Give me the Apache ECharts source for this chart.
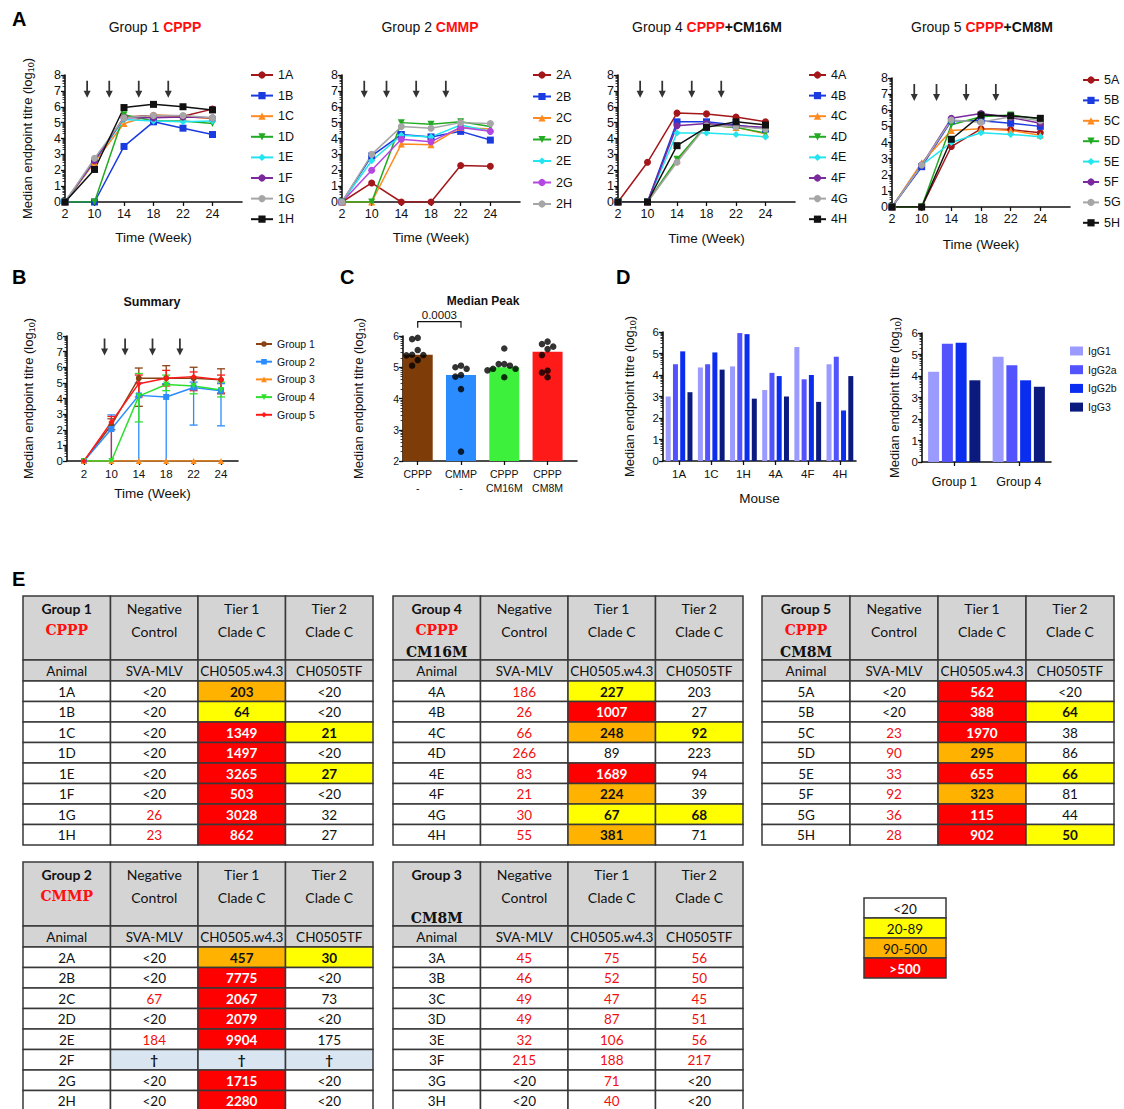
<!DOCTYPE html>
<html>
<head>
<meta charset="utf-8">
<title>Titres figure</title>
<script src="https://cdn.jsdelivr.net/npm/echarts@6/dist/echarts.min.js"></script>
<style>
  html, body { margin: 0; padding: 0; background: #fff; }
  #fig { width: 1124px; height: 1109px; }
</style>
</head>
<body>
<div id="fig"></div>
<script>
// ---- data ----
var weeks = ['2', '10', '14', '18', '22', '24'];
var boostWeeks = [8, 12, 16, 20];

var g1Animals = ['1A', '1B', '1C', '1D', '1E', '1F', '1G', '1H'];
var g1Titres = [
  [0, 2.55, 5.35, 5.45, 5.4, 5.85],
  [0, 0, 3.5, 5.05, 4.65, 4.25],
  [0, 2.5, 4.95, 5.5, 5.4, 5.25],
  [0, 0, 5.5, 5.1, 5.1, 4.95],
  [0, 2.6, 5.2, 5.1, 5.05, 5.1],
  [0, 2.6, 5.3, 5.3, 5.35, 5.3],
  [0, 2.75, 5.3, 5.45, 5.45, 5.3],
  [0, 2.05, 5.95, 6.15, 6.0, 5.8]
];
var g2Animals = ['2A', '2B', '2C', '2D', '2E', '2G', '2H'];
var g2Titres = [
  [0, 1.2, 0, 0, 2.3, 2.25],
  [0, 2.9, 4.25, 4.1, 4.45, 3.9],
  [0, 0, 3.65, 3.6, 4.7, 4.6],
  [0, 0, 5.0, 4.9, 5.05, 4.75],
  [0, 2.6, 4.2, 4.1, 4.85, 4.45],
  [0, 2.0, 3.95, 3.8, 4.7, 4.45],
  [0, 3.0, 4.75, 4.65, 5.0, 4.95]
];
var g4Animals = ['4A', '4B', '4C', '4D', '4E', '4F', '4G', '4H'];
var g4Titres = [
  [0, 2.5, 5.6, 5.55, 5.35, 5.05],
  [0, 0, 5.05, 5.05, 4.85, 4.6],
  [0, 0, 2.6, 4.85, 4.7, 4.3],
  [0, 0, 2.7, 4.85, 4.7, 4.35],
  [0, 0, 4.35, 4.35, 4.25, 4.1],
  [0, 0, 4.8, 4.95, 4.8, 4.7],
  [0, 0, 2.5, 4.8, 4.75, 4.6],
  [0, 0, 3.55, 4.7, 5.05, 4.85]
];
var g5Animals = ['5A', '5B', '5C', '5D', '5E', '5F', '5G', '5H'];
var g5Titres = [
  [0, 0, 3.75, 4.85, 4.8, 4.6],
  [0, 2.5, 5.35, 5.35, 5.2, 5.0],
  [0, 2.75, 4.75, 4.85, 4.75, 4.45],
  [0, 0, 5.1, 5.6, 5.7, 5.45],
  [0, 2.6, 4.0, 4.6, 4.5, 4.35],
  [0, 2.6, 5.5, 5.8, 5.55, 5.2],
  [0, 2.6, 5.4, 5.25, 5.6, 5.35],
  [0, 0, 4.2, 5.7, 5.65, 5.5]
];

var summaryGroups = ['Group 1', 'Group 2', 'Group 3', 'Group 4', 'Group 5'];
var summaryMedian = [
  [0, 2.3, 5.3, 5.3, 5.3, 5.2],
  [0, 2.05, 4.2, 4.1, 4.7, 4.5],
  [0, 0, 0, 0, 0, 0],
  [0, 0, 4.15, 4.9, 4.8, 4.55],
  [0, 2.5, 4.95, 5.3, 5.4, 5.2]
];
var summaryLow = [
  [null, 2.0, 3.5, 4.9, 4.6, 4.3],
  [null, 0, 0, 0, 2.3, 2.25],
  [null, null, null, null, null, null],
  [null, null, 2.5, 4.5, 4.3, 4.1],
  [null, 0, 4.1, 4.8, 4.5, 4.35]
];
var summaryHigh = [
  [null, 2.7, 5.95, 6.1, 6.0, 5.9],
  [null, 2.95, 5.0, 4.95, 5.05, 4.95],
  [null, null, null, null, null, null],
  [null, null, 5.6, 5.5, 5.35, 5.05],
  [null, 2.85, 5.5, 5.8, 5.7, 5.5]
];

var peakGroups = ['CPPP\n-', 'CMMP\n-', 'CPPP\nCM16M', 'CPPP\nCM8M'];
var peakMedian = [5.4, 4.75, 5.0, 5.5];
var peakAnimals = [
  [5.94, 5.9, 5.55, 5.4, 5.39, 5.38, 5.23, 5.05],
  [5.05, 5.0, 4.95, 4.75, 4.7, 4.3, 2.3],
  [5.6, 5.1, 5.1, 5.05, 4.95, 4.95, 4.9, 4.68],
  [5.82, 5.74, 5.66, 5.58, 5.39, 4.89, 4.83, 4.68]
];
var peakP = '0.0003';

var subclassNames = ['IgG1', 'IgG2a', 'IgG2b', 'IgG3'];
var mice = ['1A', '1C', '1H', '4A', '4F', '4H'];
var miceIgG1 = [3.0, 4.35, 4.4, 3.3, 5.3, 4.5];
var miceIgG2a = [4.5, 4.5, 5.95, 4.1, 3.8, 4.85];
var miceIgG2b = [5.1, 5.05, 5.9, 3.95, 4.0, 2.35];
var miceIgG3 = [3.2, 4.25, 2.9, 3.0, 2.75, 3.95];
var subclassGroups = ['Group 1', 'Group 4'];
var groupIgG1 = [4.2, 4.9];
var groupIgG2a = [5.5, 4.5];
var groupIgG2b = [5.55, 3.8];
var groupIgG3 = [3.8, 3.5];

// neutralisation tables (k plain, r red text, Y/O/R yellow/orange/red cell, D died)
var colHeads = ['Negative\nControl', 'Tier 1\nClade C', 'Tier 2\nClade C'];
var subHeads = ['Animal', 'SVA-MLV', 'CH0505.w4.3', 'CH0505TF'];

var g1Neg = ['<20', '<20', '<20', '<20', '<20', '<20', '26', '23'];
var g1Tier1 = ['203', '64', '1349', '1497', '3265', '503', '3028', '862'];
var g1Tier2 = ['<20', '<20', '21', '<20', '27', '<20', '32', '27'];
var g1Marks = ['kkkkkkrr', 'OYRRRRRR', 'kkYkYkkk'];

var g4Neg = ['186', '26', '66', '266', '83', '21', '30', '55'];
var g4Tier1 = ['227', '1007', '248', '89', '1689', '224', '67', '381'];
var g4Tier2 = ['203', '27', '92', '223', '94', '39', '68', '71'];
var g4Marks = ['rrrrrrrr', 'YROkROYO', 'kkYkkkYk'];

var g5Neg = ['<20', '<20', '23', '90', '33', '92', '36', '28'];
var g5Tier1 = ['562', '388', '1970', '295', '655', '323', '115', '902'];
var g5Tier2 = ['<20', '64', '38', '86', '66', '81', '44', '50'];
var g5Marks = ['kkrrrrrr', 'RRRORORR', 'kYkkYkkY'];

var g2TableAnimals = ['2A', '2B', '2C', '2D', '2E', '2F', '2G', '2H'];
var g2Neg = ['<20', '<20', '67', '<20', '184', '\u2020', '<20', '<20'];
var g2Tier1 = ['457', '7775', '2067', '2079', '9904', '\u2020', '1715', '2280'];
var g2Tier2 = ['30', '<20', '73', '<20', '175', '\u2020', '<20', '<20'];
var g2Marks = ['kkrkrDkk', 'ORRRRDRR', 'YkkkkDkk'];

var g3Animals = ['3A', '3B', '3C', '3D', '3E', '3F', '3G', '3H'];
var g3Neg = ['45', '46', '49', '49', '32', '215', '<20', '<20'];
var g3Tier1 = ['75', '52', '47', '87', '106', '188', '71', '40'];
var g3Tier2 = ['56', '50', '45', '51', '56', '217', '<20', '<20'];
var g3Marks = ['rrrrrrkk', 'rrrrrrrr', 'rrrrrrkk'];

var keyLevels = ['<20', '20-89', '90-500', '>500'];
var keyMarks = 'kyoR';

// ---- styling ----
var FONT = '"Liberation Sans", Arial, sans-serif';
var TFONT = 'Lato, "Liberation Sans", sans-serif';
var SFONT = '"DejaVu Serif", serif';
var INK = '#111';
var lineColors = ['#A3161A', '#1A3BE0', '#FF8A1F', '#22AA22', '#22E5F0', '#7B2A9E', '#A6A6A6', '#111111'];
var lineSymbols = ['circle', 'rect', 'triangle', 'triangle', 'diamond', 'circle', 'circle', 'rect'];
var lineRotate = [0, 0, 0, 180, 0, 0, 0, 0];
var sumColors = ['#8A4215', '#2A8CFF', '#FF8C1A', '#2EE02E', '#FF1A1A'];
var sumSymbols = ['circle', 'rect', 'triangle', 'triangle', 'diamond'];
var sumRotate = [0, 0, 0, 180, 0];
var peakColors = ['#7E3D08', '#2A8CFF', '#3CF03C', '#FF1A1A'];
var igColors = ['#9A9AFF', '#5252FF', '#0A2DF0', '#0B1A7E'];
var ARROW = 'path://M3,0 L5,0 L5,10 L8,10 L4,17 L0,10 L3,10 Z';

var grids = [], xAxes = [], yAxes = [], series = [], titles = [], legends = [];

function addGrid(box, xa, ya, minor) {
  box.outerBoundsMode = 'none';
  grids.push(box);
  var g = grids.length - 1;
  xa.gridIndex = g;
  ya.gridIndex = g;
  xAxes.push(xa);
  yAxes.push(ya);
  var ref = { xAxisIndex: xAxes.length - 1, yAxisIndex: yAxes.length - 1 };
  if (minor) yAxes.push(minorAxis(g, ya.min, ya.max));
  return ref;
}

function minorAxis(g, min, max) {
  var vals = [];
  for (var d = min; d < max; d++) {
    for (var k = 2; k < 10; k++) vals.push(d + Math.log10(k));
  }
  return {
    type: 'value', gridIndex: g, min: min, max: max, position: 'left',
    axisLine: { show: false, onZero: false }, axisLabel: { show: false }, splitLine: { show: false },
    axisTick: { show: true, length: 2.5, customValues: vals, lineStyle: { color: INK, width: 0.8 } }
  };
}

var titreName = 'Median endpoint titre (log{s|10})';
function titreAxis(min, max, fs, nameGap) {
  var ax = {
    type: 'value', min: min, max: max, interval: 1,
    axisLine: { show: true, onZero: false, lineStyle: { color: INK, width: 1.6 } },
    axisTick: { show: true, length: 4, lineStyle: { color: INK, width: 1.3 } },
    axisLabel: { fontFamily: FONT, fontSize: fs, color: INK, margin: 4 },
    splitLine: { show: false }
  };
  if (nameGap) {
    ax.name = titreName;
    ax.nameLocation = 'middle';
    ax.nameGap = nameGap;
    ax.nameMoveOverlap = false;
    ax.nameTextStyle = {
      fontFamily: FONT, fontSize: 13, color: INK, lineHeight: 15,
      rich: { s: { fontFamily: FONT, fontSize: 9, lineHeight: 8, verticalAlign: 'bottom', color: INK } }
    };
  }
  return ax;
}

function xAxisName(ax, name, gap) {
  ax.name = name;
  ax.nameLocation = 'middle';
  ax.nameGap = gap;
  ax.nameMoveOverlap = false;
  ax.nameTextStyle = { fontFamily: FONT, fontSize: 13.5, color: INK };
  return ax;
}

function indexAxis(min, max, labels, fs, margin) {
  var idx = labels.map(function (w, i) { return i; });
  return {
    type: 'value', min: min, max: max,
    axisLine: { show: true, onZero: false, lineStyle: { color: INK, width: 1.6 } },
    axisTick: { show: true, length: 4, customValues: idx, lineStyle: { color: INK, width: 1.3 } },
    axisLabel: {
      customValues: idx, fontFamily: FONT, fontSize: fs, color: INK, margin: margin, lineHeight: 14,
      formatter: function (v) { return labels[Math.round(v)]; }
    },
    splitLine: { show: false }
  };
}

function catAxis(labels, fs, margin) {
  return {
    type: 'category', data: labels,
    axisLine: { show: true, onZero: false, lineStyle: { color: INK, width: 1.6 } },
    axisTick: { show: true, length: 4, alignWithLabel: true, lineStyle: { color: INK, width: 1.3 } },
    axisLabel: { fontFamily: FONT, fontSize: fs, color: INK, margin: margin }
  };
}

function weekIndex(w) {
  var nums = weeks.map(Number);
  for (var i = 0; i < nums.length - 1; i++) {
    if (w <= nums[i + 1]) return i + (w - nums[i]) / (nums[i + 1] - nums[i]);
  }
  return nums.length - 1;
}

function arrowSeries(ref, y) {
  return Object.assign({
    type: 'scatter', silent: true, symbol: ARROW, symbolSize: [7, 17],
    itemStyle: { color: '#000' },
    data: boostWeeks.map(function (w) { return [weekIndex(w), y]; })
  }, ref);
}

var titleRich = {
  n: { fontFamily: FONT, fontSize: 14, fontWeight: 'normal', color: INK },
  r: { fontFamily: FONT, fontSize: 14, fontWeight: 'bold', color: '#FF1010' },
  b: { fontFamily: FONT, fontSize: 14, fontWeight: 'bold', color: INK }
};

// panel letters
[['A', 12, 9], ['B', 12, 267], ['C', 340, 267], ['D', 616, 267], ['E', 12, 569]].forEach(function (l) {
  titles.push({ text: l[0], left: l[1], top: l[2], padding: 0,
    textStyle: { fontFamily: FONT, fontSize: 20, fontWeight: 'bold', color: '#000' } });
});

// ---- A: individual animals ----
var aPanels = [
  { names: g1Animals, titres: g1Titres, title: '{n|Group 1 }{r|CPPP}', tx: 155,
    box: { left: 65, top: 75, width: 177, height: 127 }, leg: [250, 68, 6.6, 22], yGap: 30, xGap: 28 },
  { names: g2Animals, titres: g2Titres, title: '{n|Group 2 }{r|CMMP}', tx: 430, purple: '#B347E0',
    box: { left: 342, top: 75, width: 178, height: 127 }, leg: [532, 68, 7.5, 18], yGap: 0, xGap: 28 },
  { names: g4Animals, titres: g4Titres, title: '{n|Group 4 }{r|CPPP}{b|+CM16M}', tx: 707,
    box: { left: 618, top: 75, width: 177, height: 127 }, leg: [808, 68, 6.6, 17], yGap: 0, xGap: 29 },
  { names: g5Animals, titres: g5Titres, title: '{n|Group 5 }{r|CPPP}{b|+CM8M}', tx: 982,
    box: { left: 892, top: 78, width: 178, height: 129 }, leg: [1082, 73, 6.4, 16], yGap: 0, xGap: 30 }
];

aPanels.forEach(function (p) {
  var ref = addGrid(p.box, xAxisName(indexAxis(0, 6, weeks, 12.5, 5), 'Time (Week)', p.xGap),
    titreAxis(0, 8, 12.5, p.yGap), true);
  titles.push({ text: p.title, left: p.tx, top: 20, padding: 0, textAlign: 'center',
    textStyle: { fontWeight: 'normal', rich: titleRich } });
  p.names.forEach(function (n, i) {
    var col = (i === 5 && p.purple) ? p.purple : lineColors[i];
    series.push(Object.assign({
      name: n, type: 'line',
      data: p.titres[i].map(function (v, k) { return [k, v]; }),
      symbol: lineSymbols[i], symbolRotate: lineRotate[i], symbolSize: 7,
      lineStyle: { color: col, width: 1.5 }, itemStyle: { color: col }
    }, ref));
  });
  series.push(arrowSeries(ref, 7.1));
  legends.push({
    orient: 'vertical', left: p.leg[0], top: p.leg[1], itemWidth: p.leg[3], itemHeight: 9, itemGap: p.leg[2],
    padding: 0, selectedMode: false, data: p.names,
    textStyle: { fontFamily: FONT, fontSize: 12.5, color: INK, lineHeight: 14 }
  });
});

// ---- B: summary ----
var bRef = addGrid({ left: 67, top: 336, width: 171, height: 125 },
  xAxisName(indexAxis(-0.62, 5.62, weeks, 11.5, 6), 'Time (Week)', 25), titreAxis(0, 8, 11.5, 31), true);
titles.push({ text: 'Summary', left: 152, top: 295, padding: 0, textAlign: 'center',
  textStyle: { fontFamily: FONT, fontSize: 12.5, fontWeight: 'bold', color: INK } });

function errorBars(params, api) {
  var x = api.value(0);
  var lo = api.coord([x, api.value(1)]), hi = api.coord([x, api.value(2)]);
  var st = { stroke: api.visual('color'), lineWidth: 1.3 };
  var w = 4;
  return { type: 'group', children: [
    { type: 'line', shape: { x1: lo[0], y1: lo[1], x2: hi[0], y2: hi[1] }, style: st },
    { type: 'line', shape: { x1: hi[0] - w, y1: hi[1], x2: hi[0] + w, y2: hi[1] }, style: st },
    { type: 'line', shape: { x1: lo[0] - w, y1: lo[1], x2: lo[0] + w, y2: lo[1] }, style: st }
  ] };
}

summaryGroups.forEach(function (g, i) {
  var bars = [];
  summaryLow[i].forEach(function (lo, k) {
    if (lo !== null) bars.push([k, lo, summaryHigh[i][k]]);
  });
  series.push(Object.assign({
    name: g + ' range', type: 'custom', renderItem: errorBars, data: bars,
    itemStyle: { color: sumColors[i] }, encode: { x: 0, y: [1, 2] }
  }, bRef));
  series.push(Object.assign({
    name: g, type: 'line',
    data: summaryMedian[i].map(function (v, k) { return [k, v]; }),
    symbol: sumSymbols[i], symbolRotate: sumRotate[i], symbolSize: 6,
    lineStyle: { color: sumColors[i], width: 1.5 }, itemStyle: { color: sumColors[i] }
  }, bRef));
});
series.push(arrowSeries(bRef, 7.3));
legends.push({
  orient: 'vertical', left: 255, top: 338, itemWidth: 16, itemHeight: 7, itemGap: 5.7,
  padding: 0, selectedMode: false, data: summaryGroups,
  textStyle: { fontFamily: FONT, fontSize: 10.5, color: INK, lineHeight: 12 }
});

// ---- C: median peak ----
var cY = titreAxis(2, 6, 10.5, 37);
cY.startValue = 2;
var cRef = addGrid({ left: 403, top: 336, width: 174, height: 125 },
  indexAxis(-0.34, 3.68, peakGroups, 10.5, 6), cY, true);
titles.push({ text: 'Median Peak', left: 483, top: 295, padding: 0, textAlign: 'center',
  textStyle: { fontFamily: FONT, fontSize: 12, fontWeight: 'bold', color: INK } });

series.push(Object.assign({
  type: 'bar', barWidth: 30, clip: true,
  data: peakMedian.map(function (v, i) { return { value: [i, v], itemStyle: { color: peakColors[i] } }; })
}, cRef));

// simple beeswarm: close values are pushed side by side
function swarm(vals, step, near) {
  var slots = [0, -1, 1, -2, 2, -3, 3];
  var placed = [];
  return vals.map(function (v) {
    for (var s = 0; s < slots.length; s++) {
      var free = placed.every(function (p) { return p.s !== slots[s] || Math.abs(p.v - v) >= near; });
      if (free) { placed.push({ v: v, s: slots[s] }); return slots[s] * step; }
    }
    return 0;
  });
}
var dots = [];
peakAnimals.forEach(function (vals, i) {
  var off = swarm(vals, 0.13, 0.2);
  vals.forEach(function (v, k) { dots.push([i + off[k], v]); });
});
series.push(Object.assign({
  type: 'scatter', symbolSize: 6.5, itemStyle: { color: '#000' }, data: dots, z: 5
}, cRef));

series.push(Object.assign({
  type: 'custom', silent: true, clip: false, data: [[0, 1, 6.46]],
  renderItem: function (params, api) {
    var l = api.coord([api.value(0), api.value(2)]), r = api.coord([api.value(1), api.value(2)]);
    return { type: 'group', children: [
      { type: 'polyline', shape: { points: [[l[0], l[1] + 6], [l[0], l[1]], [r[0], r[1]], [r[0], r[1] + 6]] },
        style: { stroke: INK, lineWidth: 1.2, fill: null } },
      { type: 'text', style: { x: (l[0] + r[0]) / 2, y: l[1] - 1, text: peakP, align: 'center', verticalAlign: 'bottom',
        fontFamily: FONT, fontSize: 11.5, fill: INK } }
    ] };
  }
}, cRef));

// ---- D: IgG subclasses ----
var d1Ref = addGrid({ left: 663, top: 332, width: 193, height: 129 },
  xAxisName(catAxis(mice, 11.5, 7), 'Mouse', 30), titreAxis(0, 6, 11.5, 26), true);
var d2Ref = addGrid({ left: 922, top: 333, width: 129, height: 129 },
  catAxis(subclassGroups, 12.5, 13), titreAxis(0, 6, 11.5, 20), true);
var miceSets = [miceIgG1, miceIgG2a, miceIgG2b, miceIgG3];
var groupSets = [groupIgG1, groupIgG2a, groupIgG2b, groupIgG3];
subclassNames.forEach(function (n, j) {
  series.push(Object.assign({ name: n, type: 'bar', data: miceSets[j], barWidth: 5, barGap: '45%',
    itemStyle: { color: igColors[j] } }, d1Ref));
  series.push(Object.assign({ name: n, type: 'bar', data: groupSets[j], barWidth: 11, barGap: '25%',
    itemStyle: { color: igColors[j] } }, d2Ref));
});
legends.push({
  orient: 'vertical', left: 1070, top: 345, icon: 'rect', itemWidth: 13, itemHeight: 9, itemGap: 6.7,
  padding: 0, selectedMode: false, data: subclassNames,
  textStyle: { fontFamily: FONT, fontSize: 10.5, color: INK, lineHeight: 12 }
});

// ---- E: neutralisation tables ----
var HEAD_H = 64, SUB_H = 21, ROW_H = 20.5;
var FILL = { head: '#D4D4D4', sub: '#D4D4D4', group: '#D4D4D4', Y: '#FFFF00', O: '#FFB300', R: '#FF0000',
  D: '#DAE5F2', y: '#FFFF00', o: '#FFB300', k: '#FFFFFF', r: '#FFFFFF' };
var headRich = {
  g: { fontFamily: TFONT, fontSize: 14, fontWeight: 'bold', fill: INK, lineHeight: 22 },
  c: { fontFamily: SFONT, fontSize: 14, fontWeight: 'bold', fill: '#FF1010', lineHeight: 22 },
  m: { fontFamily: SFONT, fontSize: 14, fontWeight: 'bold', fill: INK, lineHeight: 22 }
};

function groupText(lines) {
  var t = '{g|' + lines[0] + '}\n' + (lines[1] ? '{c|' + lines[1] + '}' : '{g| }');
  if (lines[2]) t += '\n{m|' + lines[2] + '}';
  return t;
}

function cellStyle(cell, x, y, w, h) {
  if (cell.kind === 'group') {
    return { x: x + w / 2, y: y + 1, align: 'center', verticalAlign: 'top', text: groupText(cell.lines), rich: headRich };
  }
  if (cell.kind === 'head') {
    return { x: x + w / 2, y: y + 1, align: 'center', verticalAlign: 'top', text: cell.text,
      fontFamily: TFONT, fontSize: 14, lineHeight: 23, fill: INK };
  }
  var bold = /^[YORD]$/.test(cell.kind);
  var color = cell.kind === 'R' ? '#FFFFFF' : (cell.kind === 'r' ? '#F01010' : INK);
  return { x: x + w / 2, y: y + h / 2 + 0.5, align: 'center', verticalAlign: 'middle', text: cell.text,
    fontFamily: TFONT, fontSize: 13.5, fontWeight: bold ? 'bold' : 'normal', fill: color };
}

function cellRenderer(cells) {
  return function (params, api) {
    var cell = cells[params.dataIndex];
    var a = api.coord([cell.c, cell.y0]), b = api.coord([cell.c + 1, cell.y1]);
    var x = a[0], y = a[1], w = b[0] - a[0], h = b[1] - a[1];
    return { type: 'group', children: [
      { type: 'rect', shape: { x: x, y: y, width: w, height: h },
        style: { fill: FILL[cell.kind], stroke: '#383838', lineWidth: 1.5 } },
      { type: 'text', style: cellStyle(cell, x, y, w, h) }
    ] };
  };
}

function addTable(box, head, animals, cols, marks) {
  var cells = [];
  cells.push({ c: 0, y0: 0, y1: HEAD_H, kind: 'group', lines: head });
  colHeads.forEach(function (t, j) { cells.push({ c: j + 1, y0: 0, y1: HEAD_H, kind: 'head', text: t }); });
  subHeads.forEach(function (t, j) { cells.push({ c: j, y0: HEAD_H, y1: HEAD_H + SUB_H, kind: 'sub', text: t }); });
  animals.forEach(function (an, i) {
    var y0 = HEAD_H + SUB_H + i * ROW_H;
    cells.push({ c: 0, y0: y0, y1: y0 + ROW_H, kind: 'k', text: an });
    cols.forEach(function (col, j) {
      cells.push({ c: j + 1, y0: y0, y1: y0 + ROW_H, kind: marks[j].charAt(i), text: col[i] });
    });
  });
  var total = HEAD_H + SUB_H + animals.length * ROW_H;
  var ref = addGrid(box, { type: 'value', min: 0, max: 4, show: false },
    { type: 'value', min: 0, max: total, inverse: true, show: false });
  series.push(Object.assign({
    type: 'custom', silent: true, clip: false, renderItem: cellRenderer(cells),
    data: cells.map(function (c) { return [c.c, c.y0]; })
  }, ref));
}

addTable({ left: 23, top: 596, width: 350, height: 249 }, ['Group 1', 'CPPP', ''], g1Animals, [g1Neg, g1Tier1, g1Tier2], g1Marks);
addTable({ left: 393, top: 596, width: 350, height: 249 }, ['Group 4', 'CPPP', 'CM16M'], g4Animals, [g4Neg, g4Tier1, g4Tier2], g4Marks);
addTable({ left: 762, top: 596, width: 352, height: 249 }, ['Group 5', 'CPPP', 'CM8M'], g5Animals, [g5Neg, g5Tier1, g5Tier2], g5Marks);
addTable({ left: 23, top: 862, width: 350, height: 249 }, ['Group 2', 'CMMP', ''], g2TableAnimals, [g2Neg, g2Tier1, g2Tier2], g2Marks);
addTable({ left: 393, top: 862, width: 350, height: 249 }, ['Group 3', '', 'CM8M'], g3Animals, [g3Neg, g3Tier1, g3Tier2], g3Marks);

// colour key
var keyCells = keyLevels.map(function (t, i) { return { c: 0, y0: i * 20, y1: i * 20 + 20, kind: keyMarks.charAt(i), text: t }; });
var keyRef = addGrid({ left: 864, top: 898, width: 82, height: 80 },
  { type: 'value', min: 0, max: 1, show: false }, { type: 'value', min: 0, max: 80, inverse: true, show: false });
series.push(Object.assign({
  type: 'custom', silent: true, clip: false, renderItem: cellRenderer(keyCells),
  data: keyCells.map(function (c) { return [c.c, c.y0]; })
}, keyRef));

var chart = echarts.init(document.getElementById('fig'), null, { renderer: 'svg', width: 1124, height: 1109 });
chart.setOption({
  animation: false,
  backgroundColor: '#fff',
  title: titles,
  legend: legends,
  grid: grids,
  xAxis: xAxes,
  yAxis: yAxes,
  series: series
});
</script>
</body>
</html>
